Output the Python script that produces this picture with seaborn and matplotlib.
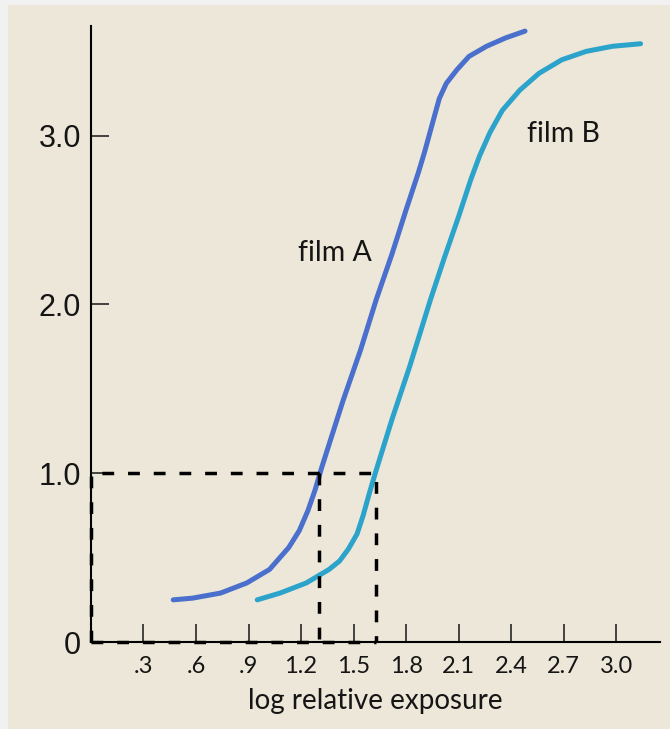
import numpy as np
import pandas as pd
import matplotlib
matplotlib.use("Agg")
import matplotlib.pyplot as plt
import seaborn as sns
from matplotlib.patches import Rectangle

# characteristic (H&D) curves
film_a_logE = [0.47, 0.58, 0.74, 0.89, 1.02, 1.13, 1.19, 1.24, 1.28, 1.32, 1.44,
               1.54, 1.63, 1.72, 1.80, 1.87, 1.905, 1.95, 1.99, 2.03, 2.09, 2.16,
               2.26, 2.37, 2.48]
film_a_density = [0.25, 0.26, 0.29, 0.35, 0.43, 0.56, 0.66, 0.78, 0.90, 1.04, 1.43,
                  1.73, 2.03, 2.30, 2.56, 2.78, 2.90, 3.07, 3.22, 3.31, 3.39, 3.47,
                  3.53, 3.58, 3.62]

film_b_logE = [0.95, 1.08, 1.23, 1.36, 1.42, 1.47, 1.52, 1.555, 1.59, 1.63, 1.72,
               1.82, 1.94, 2.02, 2.10, 2.17, 2.22, 2.28, 2.35, 2.45, 2.56, 2.69,
               2.83, 2.98, 3.14]
film_b_density = [0.25, 0.29, 0.35, 0.43, 0.48, 0.55, 0.64, 0.75, 0.88, 1.02, 1.32,
                  1.63, 2.03, 2.28, 2.52, 2.74, 2.88, 3.02, 3.15, 3.27, 3.37, 3.45,
                  3.50, 3.53, 3.545]

# exposure where each film reaches density 1.0
ref_density = 1.0
speed_a = 1.30
speed_b = 1.63

x_ticks = [0.3, 0.6, 0.9, 1.2, 1.5, 1.8, 2.1, 2.4, 2.7, 3.0]
x_tick_labels = [".3", ".6", ".9", "1.2", "1.5", "1.8", "2.1", "2.4", "2.7", "3.0"]
y_ticks = [0, 1, 2, 3]
y_tick_labels = ["0", "1.0", "2.0", "3.0"]

df = pd.concat([
    pd.DataFrame({"logE": film_a_logE, "density": film_a_density, "film": "film A"}),
    pd.DataFrame({"logE": film_b_logE, "density": film_b_density, "film": "film B"}),
])

sns.set_theme(style="ticks")
plt.rcParams["font.family"] = ["Lato", "DejaVu Sans"]

cream = "#ece7d8"
ink = "#151515"
fig = plt.figure(figsize=(6.7, 7.29), dpi=100)
fig.patch.set_facecolor("#f1f1f1")
fig.patches.append(Rectangle((8 / 670, 0), 1, 724 / 729, transform=fig.transFigure,
                             facecolor=cream, edgecolor="none", zorder=-1))

ax = fig.add_axes([0.1358, 0.1193, 0.849, 0.845])
ax.set_facecolor("none")

sns.lineplot(data=df, x="logE", y="density", hue="film",
             palette={"film A": "#4a6fcc", "film B": "#2ba3cb"},
             linewidth=3.6, legend=False, sort=False, estimator=None, ax=ax,
             solid_capstyle="round", solid_joinstyle="round", zorder=2)

# dashed guides at density 1.0
dash = dict(color="black", linestyle=(0, (3.4, 4.0)), linewidth=2.5, clip_on=False, zorder=3)
ax.plot([0, 0, speed_b, speed_b], [0, ref_density, ref_density, 0], **dash)
ax.plot([0, speed_b], [0, 0], **dash)
ax.plot([speed_a, speed_a], [ref_density, 0], **dash)

ax.text(1.18, 2.26, "film A", fontsize=20.5, color=ink)
ax.text(2.49, 2.96, "film B", fontsize=20.5, color=ink)

ax.set_xlim(0, 3.25)
ax.set_ylim(0, 3.65)
ax.set_xticks(x_ticks)
ax.set_xticklabels(x_tick_labels, fontsize=17)
ax.set_yticks(y_ticks)
ax.set_yticklabels(y_tick_labels, fontsize=22, family=["Liberation Sans"])
ax.tick_params(axis="x", direction="in", length=13, width=1.1, pad=10, colors=ink)
ax.tick_params(axis="y", direction="in", length=13, width=1.1, pad=7, colors=ink)
ax.set_xlabel("log relative exposure", fontsize=20, color=ink, labelpad=8)
ax.set_ylabel("")

for side in ["top", "right"]:
    ax.spines[side].set_visible(False)
for side in ["left", "bottom"]:
    ax.spines[side].set_linewidth(1.5)
    ax.spines[side].set_color("black")

fig.savefig("out.png", dpi=100)
